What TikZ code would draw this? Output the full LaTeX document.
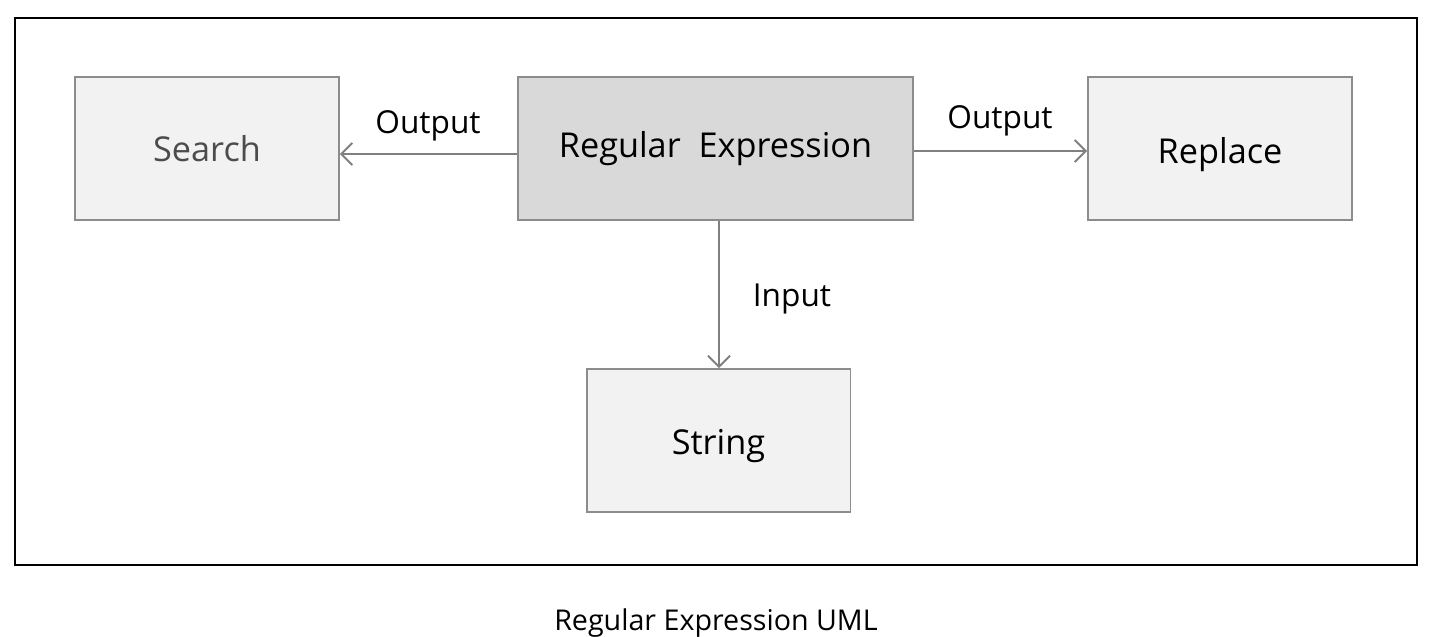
\documentclass[tikz,border=0pt]{standalone}
\usepackage{fontspec}
\setmainfont{Open Sans}
\usetikzlibrary{positioning}
\usetikzlibrary{arrows.meta}
\definecolor{boxline}{HTML}{8C8C8C}
\definecolor{boxfill}{HTML}{F2F2F2}
\definecolor{mainfill}{HTML}{D9D9D9}
\definecolor{arrowline}{HTML}{808080}
\tikzset{
        umlnode/.style={align=center,inner sep=0pt},
        % Plain boxes
        node_box/.style={umlnode, rectangle, draw=boxline, line width=1.1pt, fill=boxfill, minimum width=5.28cm, minimum height=2.86cm, font=\fontsize{19.5}{23}\selectfont},
        % Main box
        node_main/.style={node_box, fill=mainfill, minimum width=7.9cm},
        % Connector labels
        node_label/.style={umlnode, font=\fontsize{18}{22}\selectfont},
        % Connectors
        line_arrow/.style={draw=arrowline, line width=1.1pt, -{Straight Barb[length=2.2mm,width=4.4mm]}}
}
\begin{document}
\begin{tikzpicture}[x=0.02cm, y=-0.02cm]
            \useasboundingbox (0,0) rectangle (1433,636);
            \draw[line width=1.1pt] (15,18) rectangle (1417,565);
            \node[node_main] (regex) at (715.5,148.5) {Regular\ \ Expression};
            \node[node_box, text=black!70] (search) at (207,148.5) {Search};
            \node[node_box] (replace) at (1220,148.5) {\raisebox{-0.12cm}[\height][\depth]{Replace}};
            \node[node_box] (string) at (718.5,440.5) {\raisebox{-0.12cm}[\height][\depth]{String}};
            \draw[line_arrow] ([yshift=-0.11cm]regex.west) -- ([yshift=-0.11cm]regex.west -| search.east);
            \draw[line_arrow] ([yshift=-0.05cm]regex.east) -- ([yshift=-0.05cm]regex.east -| replace.west);
            \draw[line_arrow] ([xshift=0.07cm]regex.south) -- ([xshift=0.07cm]regex.south |- string.north);
            \node[node_label] (out_left) at (428,126) {Output};
            \node[node_label] (out_right) at (1000,121) {Output};
            \node[node_label] (in_down) at (792,299) {Input};
            \node[node_label, font=\fontsize{16.3}{20}\selectfont] (caption) at (716,623) {Regular Expression UML};
        \end{tikzpicture}
\end{document}
